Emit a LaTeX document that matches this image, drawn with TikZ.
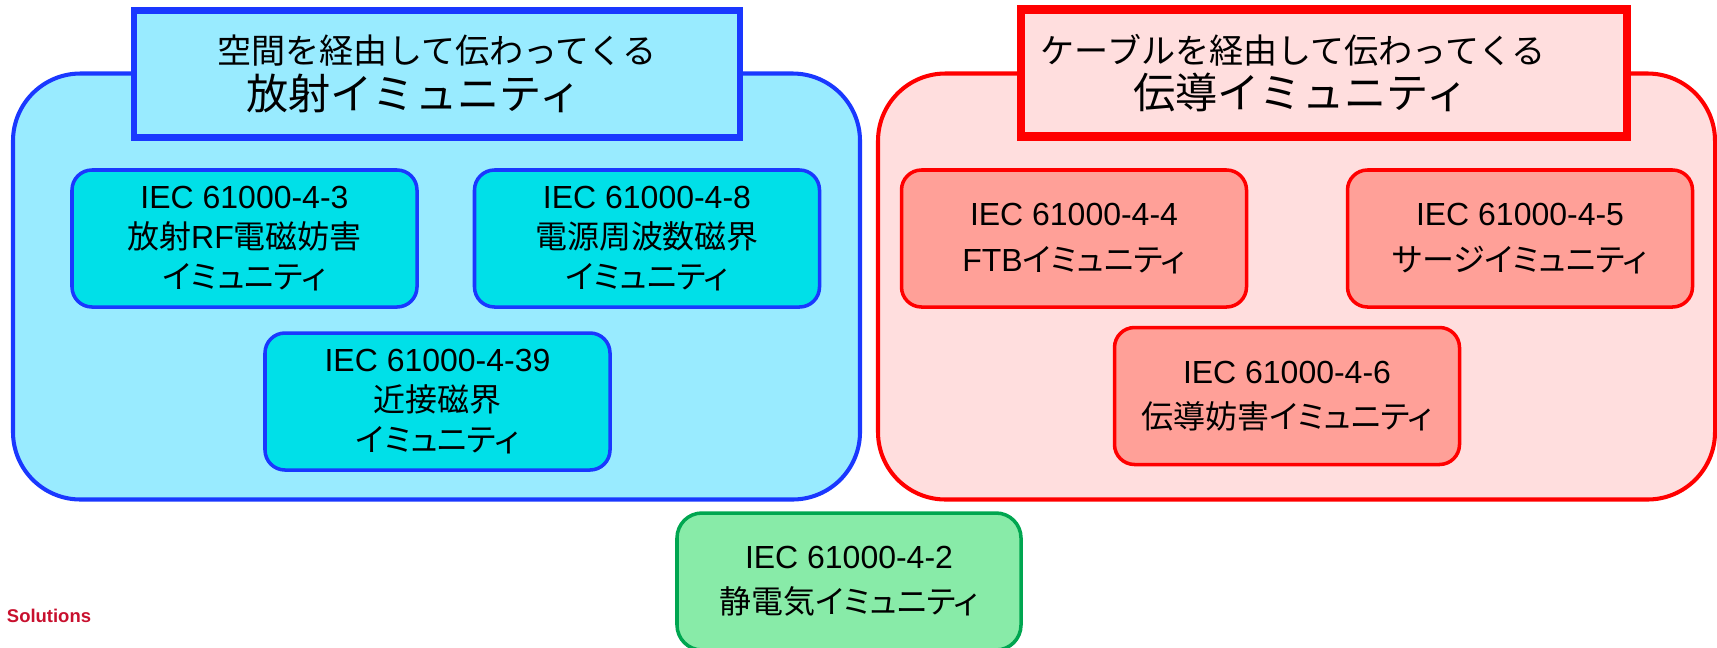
\documentclass[tikz,border=0pt]{standalone}
\usepackage{fontspec}
\setmainfont{Liberation Sans}
\newfontfamily\jp[RawFeature=+palt]{Noto Sans CJK JP}
\newfontfamily\jpwide{Noto Sans CJK JP}
\usepackage{tikz}
\definecolor{radline}{RGB}{26,56,255}
\definecolor{radfill}{RGB}{153,235,255}
\definecolor{radbox}{RGB}{0,224,232}
\definecolor{conline}{RGB}{255,0,0}
\definecolor{confill}{RGB}{255,222,222}
\definecolor{conbox}{RGB}{255,160,152}
\definecolor{esdline}{RGB}{0,166,80}
\definecolor{esdfill}{RGB}{136,235,168}
\definecolor{brand}{RGB}{200,16,46}

\begin{document}
\begin{tikzpicture}[x=0.2mm,y=0.2mm,
  area/.style={draw,rounded corners=13.5mm,line width=2.3pt,minimum height=85.2mm},
  titlebox/.style={draw,line width=3.6pt,minimum width=121.2mm,minimum height=25.4mm,align=center,inner sep=0pt},
  testbox/.style={draw,rounded corners=4mm,line width=2pt,minimum width=69mm,minimum height=27.4mm,
    align=center,inner sep=0pt,font=\fontsize{18.2}{22.8}\selectfont}]
\useasboundingbox (0,0) rectangle (1717,-647);
\node [area,draw=radline,fill=radfill,minimum width=169.4mm] (rad) at (436.5,-286.5) {};
\node [area,draw=conline,fill=confill,minimum width=167.4mm] (con) at (1296.5,-286.5) {};
\node [titlebox,draw=radline,fill=radfill] (radtitle) at (437,-74)
  {{\jpwide\fontsize{19.4}{24}\selectfont 空間を経由して伝わってくる}\\[3pt]
   {\jpwide\fontsize{24}{28}\selectfont 放射イミュニティ\rule{1.1em}{0pt}}};
\node [titlebox,draw=conline,fill=confill,line width=4.6pt] (contitle) at (1324,-73)
  {{\jpwide\fontsize{19.4}{24}\selectfont ケーブルを経由して伝わってくる\rule{1.8em}{0pt}}\\[3pt]
   {\jpwide\fontsize{24}{28}\selectfont 伝導イミュニティ\rule{1.1em}{0pt}}};
\node [testbox,draw=radline,fill=radbox] (iec3) at (244.5,-238.5)
  {IEC 61000-4-3\\{\jp 放射}RF{\jp 電磁妨害}\\{\jp イミュニティ}};
\node [testbox,draw=radline,fill=radbox] (iec8) at (647,-238.5)
  {IEC 61000-4-8\\{\jp 電源周波数磁界}\\{\jp イミュニティ}};
\node [testbox,draw=radline,fill=radbox] (iec39) at (437.5,-401.5)
  {IEC 61000-4-39\\{\jp 近接磁界}\\{\jp イミュニティ}};
\node [testbox,draw=conline,fill=conbox] (iec4) at (1074,-238.5)
  {IEC 61000-4-4\\[3pt]FTB{\jp イミュニティ}};
\node [testbox,draw=conline,fill=conbox] (iec5) at (1520,-238.5)
  {IEC 61000-4-5\\[3pt]{\jp サージイミュニティ}};
\node [testbox,draw=conline,fill=conbox] (iec6) at (1287,-396)
  {IEC 61000-4-6\\[3pt]{\jp 伝導妨害イミュニティ}};
\node [testbox,draw=esdline,fill=esdfill,rounded corners=5mm,minimum width=68.8mm] (iec2) at (849,-581.5)
  {IEC 61000-4-2\\[3pt]{\jp 静電気イミュニティ}};
\node [text=brand,font=\fontsize{10.5}{12}\selectfont\bfseries] (brandname) at (49,-616) {Solutions};
\end{tikzpicture}
\end{document}
